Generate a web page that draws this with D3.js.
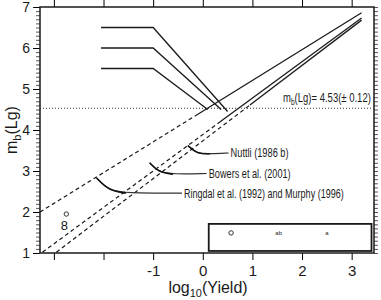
<!DOCTYPE html>
<html>
<head>
<meta charset="utf-8">
<script src="https://cdn.jsdelivr.net/npm/d3@7"></script>
<style>
body { margin: 0; background: #fff; }
text { font-family: "Liberation Sans", Arial, sans-serif; fill: #1a1a1a; }
</style>
</head>
<body>
<div id="chart"></div>
<script>
//Relations, [log10(Yield), mb(Lg)] end points
var ringdal = [[-3.28, 2.0], [3.2, 6.86]];
var nuttli = [[-3.23, 1.02], [3.2, 6.73]];
var bowers = [[-2.95, 1.02], [3.2, 6.68]];
var relations = [ringdal, nuttli, bowers];
//where each relation turns from dashed to solid
var solidFrom = [-0.1, 0.35, 0.95];

//the three saturating branches
var branchLevels = [6.5, 6.0, 5.5];
var branchStart = -2.05;
var branchKnee = -1.0;
var branchEnds = [[0.5, 4.45], [0.37, 4.5], [0.1, 4.5]];

var meanMb = 4.53;

//points
var points = [[-2.75, 1.95]];
var legendPoints = [[0.57, 1.49]];

var xTicks = [-3, -2, -1, 0, 1, 2, 3];
var xLabels = [-1, 0, 1, 2, 3];
var yTicks = [1, 2, 3, 4, 5, 6, 7];

//annotation leaders (data coords), label width in px
var leaders = [
    { text: "Nuttli (1986 b)", w: 58, pts: [[-0.3, 3.62], [-0.12, 3.42], [0.15, 3.42], [0.52, 3.44]] },
    { text: "Bowers et al. (2001)", w: 82, pts: [[-1.07, 3.2], [-0.9, 2.98], [-0.6, 2.92], [0.08, 2.94]] },
    { text: "Ringdal et al. (1992) and Murphy (1996)", w: 160, pts: [[-2.14, 2.83], [-1.9, 2.53], [-1.55, 2.46], [-0.42, 2.46]] }
];

var width = 381, height = 300;
var margin = { top: 7, right: 7, bottom: 47, left: 40 };

var svg = d3.select("#chart")
    .append("svg")
    .attr("width", width)
    .attr("height", height);

var x = d3.scaleLinear().domain([-3.28, 3.45]).range([margin.left, width - margin.right]);
var y = d3.scaleLinear().domain([1, 7]).range([height - margin.bottom, margin.top]);

var ink = "#1a1a1a";

//squeeze a label to the narrow width used in the figure
function squeeze(t, px, py, w, anchor) {
    var n = t.node().getComputedTextLength();
    var k = Math.min(1, w / n);
    var dx = anchor == "end" ? -w : 0;
    t.attr("x", 0).attr("y", 0)
        .attr("text-anchor", "start")
        .attr("transform", "translate(" + (px + dx) + "," + py + ") scale(" + k + ",1)");
}

//Axes
var minor = d3.range(1, 7.001, 0.1);

svg.append("g")
    .attr("transform", "translate(" + margin.left + ",0)")
    .call(d3.axisLeft(y).tickValues(minor).tickSize(4).tickFormat(""))
    .call(g => g.select(".domain").remove())
    .selectAll("line").attr("stroke", "#555");

svg.append("g")
    .attr("transform", "translate(" + margin.left + ",0)")
    .call(d3.axisLeft(y).tickValues(yTicks).tickSize(7).tickPadding(3).tickFormat(d3.format("d")))
    .call(g => g.select(".domain").remove())
    .call(g => g.selectAll("text").attr("font-size", 14).attr("fill", "#333"));

svg.append("g")
    .attr("transform", "translate(" + (width - margin.right) + ",0)")
    .call(d3.axisRight(y).tickValues(minor).tickSize(4).tickFormat(""))
    .call(g => g.select(".domain").remove())
    .selectAll("line").attr("stroke", "#555");

svg.append("g")
    .attr("transform", "translate(0," + margin.top + ")")
    .call(d3.axisTop(x).tickValues(xTicks).tickSize(7).tickFormat(""))
    .call(g => g.select(".domain").remove());

svg.append("g")
    .attr("transform", "translate(0," + (height - margin.bottom) + ")")
    .call(d3.axisBottom(x).tickValues(xTicks).tickSize(7).tickPadding(5)
        .tickFormat(d => xLabels.indexOf(d) >= 0 ? d : ""))
    .call(g => g.select(".domain").remove())
    .call(g => g.selectAll("text").attr("font-size", 15).attr("fill", "#333"));

//frame
svg.append("rect")
    .attr("x", x.range()[0])
    .attr("y", y.range()[1])
    .attr("width", x.range()[1] - x.range()[0])
    .attr("height", y.range()[0] - y.range()[1])
    .attr("fill", "none")
    .attr("stroke", ink)
    .attr("stroke-width", 1.5);

//Axis titles
var xt = svg.append("text")
    .attr("x", 208)
    .attr("y", 293)
    .attr("text-anchor", "middle")
    .attr("font-size", 16);
xt.append("tspan").text("log");
xt.append("tspan").attr("font-size", 11).attr("dy", 4).text("10");
xt.append("tspan").attr("dy", -4).text("(Yield)");

var yt = svg.append("text")
    .attr("transform", "translate(17," + ((y.range()[0] + y.range()[1]) / 2) + ") rotate(-90)")
    .attr("text-anchor", "middle")
    .attr("font-size", 16);
yt.append("tspan").text("m");
yt.append("tspan").attr("font-size", 11).attr("dy", 4).text("b");
yt.append("tspan").attr("dy", -4).text("(Lg)");

//mean level
svg.append("line")
    .attr("x1", x.range()[0])
    .attr("x2", x.range()[1])
    .attr("y1", y(meanMb))
    .attr("y2", y(meanMb))
    .attr("stroke", "#333")
    .attr("stroke-width", 1)
    .attr("stroke-dasharray", "1,2");

var mt = svg.append("text")
    .attr("font-size", 13);
mt.append("tspan").text("m");
mt.append("tspan").attr("font-size", 9).attr("dy", 3).text("b");
mt.append("tspan").attr("dy", -3).text("(Lg)= 4.53(\u00b1 0.12)");
squeeze(mt, 371, 102, 88, "end");

//Relations: dashed below, solid above
var line = d3.line().x(d => x(d[0])).y(d => y(d[1]));

function valueAt(r, v) {
    var t = (v - r[0][0]) / (r[1][0] - r[0][0]);
    return r[0][1] + t * (r[1][1] - r[0][1]);
}

relations.forEach(function(r, i) {
    var cut = [solidFrom[i], valueAt(r, solidFrom[i])];
    svg.append("path")
        .attr("d", line([r[0], cut]))
        .attr("fill", "none")
        .attr("stroke", ink)
        .attr("stroke-width", 1.2)
        .attr("stroke-dasharray", "4,3");
    svg.append("path")
        .attr("d", line([cut, r[1]]))
        .attr("fill", "none")
        .attr("stroke", ink)
        .attr("stroke-width", 1.3);
});

//saturating branches
branchLevels.forEach(function(lv, i) {
    svg.append("path")
        .attr("d", line([[branchStart, lv], [branchKnee, lv], branchEnds[i]]))
        .attr("fill", "none")
        .attr("stroke", ink)
        .attr("stroke-width", 1.3);
});

//Leaders and labels
var curve = d3.line().x(d => x(d[0])).y(d => y(d[1])).curve(d3.curveBasis);

leaders.forEach(function(l) {
    svg.append("path")
        .attr("d", curve(l.pts))
        .attr("fill", "none")
        .attr("stroke", "#333")
        .attr("stroke-width", 1.1);
    svg.append("path")
        .attr("d", curve(l.pts.slice(0, 3)))
        .attr("fill", "none")
        .attr("stroke", "#111")
        .attr("stroke-width", 1.6);
    var end = l.pts[l.pts.length - 1];
    var t = svg.append("text")
        .attr("font-size", 13)
        .text(l.text);
    squeeze(t, x(end[0]) + 2, y(end[1]) + 4.5, l.w, "start");
});

//points
svg.selectAll(".pt")
    .data(points.concat(legendPoints))
    .enter()
    .append("circle")
    .attr("cx", d => x(d[0]))
    .attr("cy", d => y(d[1]))
    .attr("r", 2.2)
    .attr("fill", "none")
    .attr("stroke", "#333")
    .attr("stroke-width", 1);

svg.append("text")
    .attr("x", x(points[0][0]) - 2)
    .attr("y", y(points[0][1]) + 16)
    .attr("text-anchor", "middle")
    .attr("font-size", 13)
    .attr("fill", "#333")
    .text("8");

//legend box
svg.append("rect")
    .attr("x", x(0.12))
    .attr("y", y(1.71))
    .attr("width", x(3.4) - x(0.12))
    .attr("height", y(1.05) - y(1.71))
    .attr("fill", "none")
    .attr("stroke", ink)
    .attr("stroke-width", 1.8);

svg.selectAll(".mark")
    .data([1.53, 2.5])
    .enter()
    .append("text")
    .attr("x", d => x(d))
    .attr("y", y(1.43))
    .attr("text-anchor", "middle")
    .attr("font-size", 6)
    .attr("fill", "#888")
    .text(function(d, i) { return i == 0 ? "ab" : "a"; });
</script>
</body>
</html>
